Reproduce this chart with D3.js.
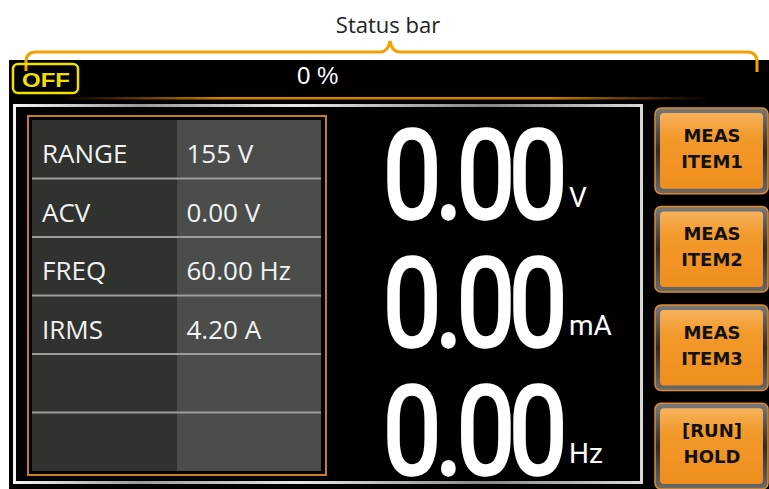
<!DOCTYPE html>
<html>
<head>
<meta charset="utf-8">
<script src="https://cdn.jsdelivr.net/npm/d3@7"></script>
<style>
  html, body { margin: 0; padding: 0; background: #fff; }
  svg { display: block; }
</style>
</head>
<body>
<div id="screen"></div>
<script>
// panel content
var statusTitle = "Status bar";
var outputState = "OFF";
var percentText = "0 %";
var rowLabels = ["RANGE", "ACV", "FREQ", "IRMS", "", ""];
var rowValues = ["155 V", "0.00 V", "60.00 Hz", "4.20 A", "", ""];
var readings = ["0.00", "0.00", "0.00"];
var readingUnits = ["V", "mA", "Hz"];
var buttonLines = [["MEAS", "ITEM1"], ["MEAS", "ITEM2"], ["MEAS", "ITEM3"], ["[RUN]", "HOLD"]];

var W = 769, H = 489;

var svg = d3.select("#screen").append("svg")
    .attr("width", W)
    .attr("height", H);

var defs = svg.append("defs");

// gradients
var glow = defs.append("linearGradient").attr("id", "glow");
glow.append("stop").attr("offset", "0%").attr("stop-color", "#c06a00").attr("stop-opacity", 0);
glow.append("stop").attr("offset", "25%").attr("stop-color", "#d87e00").attr("stop-opacity", 1);
glow.append("stop").attr("offset", "75%").attr("stop-color", "#d87e00").attr("stop-opacity", 1);
glow.append("stop").attr("offset", "100%").attr("stop-color", "#c06a00").attr("stop-opacity", 0);

var silver = defs.append("linearGradient").attr("id", "silver");
silver.append("stop").attr("offset", "0%").attr("stop-color", "#f4f4f4");
silver.append("stop").attr("offset", "20%").attr("stop-color", "#9a9a9a");
silver.append("stop").attr("offset", "45%").attr("stop-color", "#e8e8e8");
silver.append("stop").attr("offset", "75%").attr("stop-color", "#888");
silver.append("stop").attr("offset", "100%").attr("stop-color", "#d8d8d8");

var btnFill = defs.append("linearGradient").attr("id", "btnFill")
    .attr("x1", 0).attr("y1", 0).attr("x2", 0).attr("y2", 1);
btnFill.append("stop").attr("offset", "0%").attr("stop-color", "#f7b25c");
btnFill.append("stop").attr("offset", "30%").attr("stop-color", "#f29a2c");
btnFill.append("stop").attr("offset", "100%").attr("stop-color", "#ef8e1c");

var btnBevel = defs.append("linearGradient").attr("id", "btnBevel")
    .attr("x1", 0).attr("y1", 0).attr("x2", 0).attr("y2", 1);
btnBevel.append("stop").attr("offset", "0%").attr("stop-color", "#7a7a7a");
btnBevel.append("stop").attr("offset", "50%").attr("stop-color", "#2c2c2c");
btnBevel.append("stop").attr("offset", "100%").attr("stop-color", "#6a6a6a");

// title + bracket
svg.append("text")
    .attr("x", 388).attr("y", 33)
    .attr("text-anchor", "middle")
    .attr("font-family", "Open Sans, sans-serif")
    .attr("font-size", 22)
    .attr("fill", "#222")
    .text(statusTitle);

svg.append("path")
    .attr("d", "M26,71 V62 Q26,52 36,52 H380 Q388,52 390,41 Q392,52 400,52 H747 Q757,52 757,62 V72")
    .attr("fill", "none")
    .attr("stroke", "#f5a000")
    .attr("stroke-width", 3);

// black screen
svg.append("rect")
    .attr("x", 9).attr("y", 60)
    .attr("width", W - 9).attr("height", H - 60)
    .attr("fill", "#000");

// bracket ends over screen
svg.append("path")
    .attr("d", "M26,60 V71 M757,60 V72")
    .attr("stroke", "#f5a000")
    .attr("stroke-width", 3);

// status bar
svg.append("rect")
    .attr("x", 13).attr("y", 64)
    .attr("width", 65).attr("height", 29)
    .attr("rx", 5)
    .attr("fill", "none")
    .attr("stroke", "#f0e000")
    .attr("stroke-width", 2.5);

var off = svg.append("g").attr("transform", "translate(22,87)");
off.append("text")
    .attr("font-family", "Liberation Sans, Arial, sans-serif")
    .attr("font-weight", "bold")
    .attr("font-size", 21)
    .attr("fill", "#f0e000")
    .text(outputState);
var offLen = off.select("text").node().getComputedTextLength();
off.attr("transform", "translate(22,87) scale(" + (48 / offLen) + ",1)");

svg.append("text")
    .attr("x", 297).attr("y", 84)
    .attr("font-family", "Liberation Sans, Arial, sans-serif")
    .attr("font-size", 24)
    .attr("fill", "#fff")
    .text(percentText);

svg.append("rect")
    .attr("x", 60).attr("y", 97)
    .attr("width", 650).attr("height", 2.5)
    .attr("fill", "url(#glow)");

// display frame
svg.append("rect")
    .attr("x", 14.5).attr("y", 105.5)
    .attr("width", 627).attr("height", 377)
    .attr("fill", "none")
    .attr("stroke", "url(#silver)")
    .attr("stroke-width", 3);

// parameter table
var table = svg.append("g");

var y = d3.scaleBand()
    .domain(d3.range(rowLabels.length))
    .range([120, 471]);

var x = d3.scaleBand()
    .domain(["label", "value"])
    .range([32, 321]);

table.append("rect")
    .attr("x", 28).attr("y", 116)
    .attr("width", 298).attr("height", 359)
    .attr("fill", "none")
    .attr("stroke", "#c87a24")
    .attr("stroke-width", 2);

table.selectAll("rect.col")
    .data(x.domain())
    .enter().append("rect")
    .attr("class", "col")
    .attr("x", function(d) { return x(d); })
    .attr("y", y.range()[0])
    .attr("width", x.bandwidth())
    .attr("height", y.range()[1] - y.range()[0])
    .attr("fill", function(d) { return d == "label" ? "#2f322f" : "#4a4d4a"; });

table.selectAll("line.sep")
    .data(d3.range(1, rowLabels.length))
    .enter().append("line")
    .attr("class", "sep")
    .attr("x1", 32).attr("x2", 321)
    .attr("y1", function(d) { return y(d); })
    .attr("y2", function(d) { return y(d); })
    .attr("stroke", "#9c9e9c")
    .attr("stroke-width", 2);

table.selectAll("text.lbl")
    .data(rowLabels)
    .enter().append("text")
    .attr("class", "lbl")
    .attr("x", x("label") + 10)
    .attr("y", function(d, i) { return y(i) + 43; })
    .attr("font-family", "Open Sans, sans-serif")
    .attr("font-size", 26)
    .attr("fill", "#f2f2f2")
    .text(function(d) { return d; });

table.selectAll("text.val")
    .data(rowValues)
    .enter().append("text")
    .attr("class", "val")
    .attr("x", x("value") + 10)
    .attr("y", function(d, i) { return y(i) + 43; })
    .attr("font-family", "Open Sans, sans-serif")
    .attr("font-size", 26)
    .attr("fill", "#f2f2f2")
    .text(function(d) { return d; });

// big readings (condensed by a horizontal scale)
var yr = d3.scalePoint()
    .domain(d3.range(readings.length))
    .range([218, 474]);

var rd = svg.selectAll("g.reading")
    .data(readings)
    .enter().append("g")
    .attr("class", "reading")
    .attr("transform", function(d, i) { return "translate(383," + yr(i) + ") scale(0.85,1)"; });

rd.append("text")
    .attr("font-family", "Roboto, sans-serif")
    .attr("font-size", 122)
    .attr("letter-spacing", -7)
    .attr("fill", "#fff")
    .attr("stroke", "#fff")
    .attr("stroke-width", 3.5)
    .attr("stroke-linejoin", "round")
    .text(function(d) { return d; });

svg.selectAll("text.unit")
    .data(readingUnits)
    .enter().append("text")
    .attr("class", "unit")
    .attr("x", 569)
    .attr("y", function(d, i) { return yr(i) - 11; })
    .attr("font-family", "Roboto, sans-serif")
    .attr("font-size", 28)
    .attr("fill", "#fff")
    .text(function(d) { return d; });

// soft keys
var yb = d3.scaleBand()
    .domain(d3.range(buttonLines.length))
    .range([108, 489])
    .paddingInner(0.13);

var btn = svg.selectAll("g.btn")
    .data(buttonLines)
    .enter().append("g")
    .attr("class", "btn")
    .attr("transform", function(d, i) { return "translate(655," + yb(i) + ")"; });

btn.append("rect")
    .attr("width", 113).attr("height", yb.bandwidth())
    .attr("rx", 6)
    .attr("fill", "url(#btnBevel)")
    .attr("stroke", "#e08a2a")
    .attr("stroke-width", 1.5);

btn.append("rect")
    .attr("x", 5).attr("y", 5)
    .attr("width", 103).attr("height", yb.bandwidth() - 10)
    .attr("rx", 4)
    .attr("fill", "url(#btnFill)");

btn.selectAll("text")
    .data(function(d) { return d; })
    .enter().append("text")
    .attr("x", 57)
    .attr("y", function(d, i) { return 34 + i * 26; })
    .attr("text-anchor", "middle")
    .attr("font-family", "DejaVu Sans, sans-serif")
    .attr("font-weight", "bold")
    .attr("font-size", 18)
    .attr("fill", "#111")
    .text(function(d) { return d; });
</script>
</body>
</html>
